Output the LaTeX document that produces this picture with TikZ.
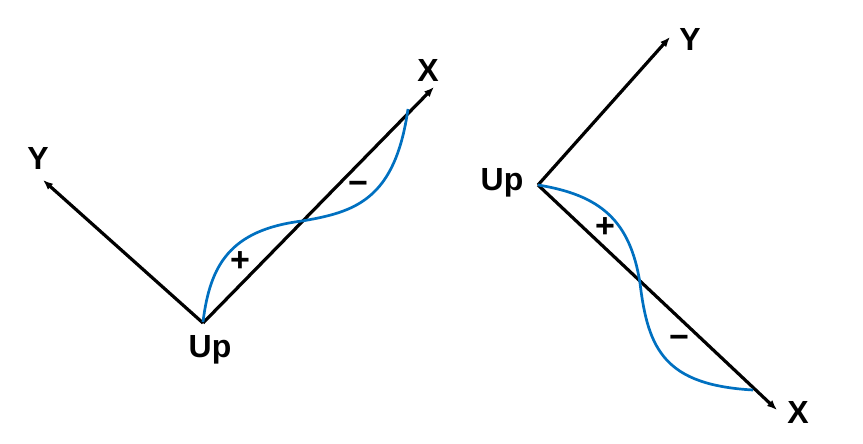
\documentclass[tikz,border=0pt]{standalone}
\usepackage{fontspec}
\setmainfont{Liberation Sans}
\usetikzlibrary{arrows.meta}
\definecolor{curveblue}{RGB}{0,112,192}
\tikzset{
  axis/.style={line width=3.2pt,-{Latex[length=10pt,width=8pt]}},
  lbl/.style={inner sep=0pt,font=\fontsize{32}{34}\selectfont\bfseries},
  sgn/.style={inner sep=0pt,font=\fontsize{34}{36}\selectfont\bfseries},
  wave/.style={curveblue,line width=2.7pt}
}
\begin{document}
\begin{tikzpicture}[x=1pt,y=-1pt]
\useasboundingbox (0,0) rectangle (863,444);
%\draw [help lines,step=50] (0,0) grid (863,444);
% left frame
\coordinate (O1) at (203,323);
\coordinate (X1) at (434,87);
\coordinate (Y1) at (43,180);
\draw [axis] (O1) -- (X1);
\draw [axis] (O1) -- (Y1);
\draw [wave] (203,322) .. controls (210,265) and (230,230) .. (302,221)
  .. controls (355,212) and (395,200) .. (408,109);
\node [lbl] (x1) at (428,70) {X};
\node [lbl] (y1) at (38,158) {Y};
\node [lbl] (up1) at (210,350) {Up};
\node [sgn] (p1) at (240,262) {+};
\node [sgn] (m1) at (358,188) {\char"2212};
% right frame
\coordinate (O2) at (538,185);
\coordinate (X2) at (777,410);
\coordinate (Y2) at (670,37);
\draw [axis] (O2) -- (X2);
\draw [axis] (O2) -- (Y2);
\draw [wave] (538,185) .. controls (600,195) and (630,220) .. (640,283)
  .. controls (648,350) and (665,385) .. (753,390);
\node [lbl] (x2) at (798,412) {X};
\node [lbl] (y2) at (690,39) {Y};
\node [lbl] (up2) at (502,183) {Up};
\node [sgn] (p2) at (605,228) {+};
\node [sgn] (m2) at (679,342) {\char"2212};
\end{tikzpicture}
\end{document}
